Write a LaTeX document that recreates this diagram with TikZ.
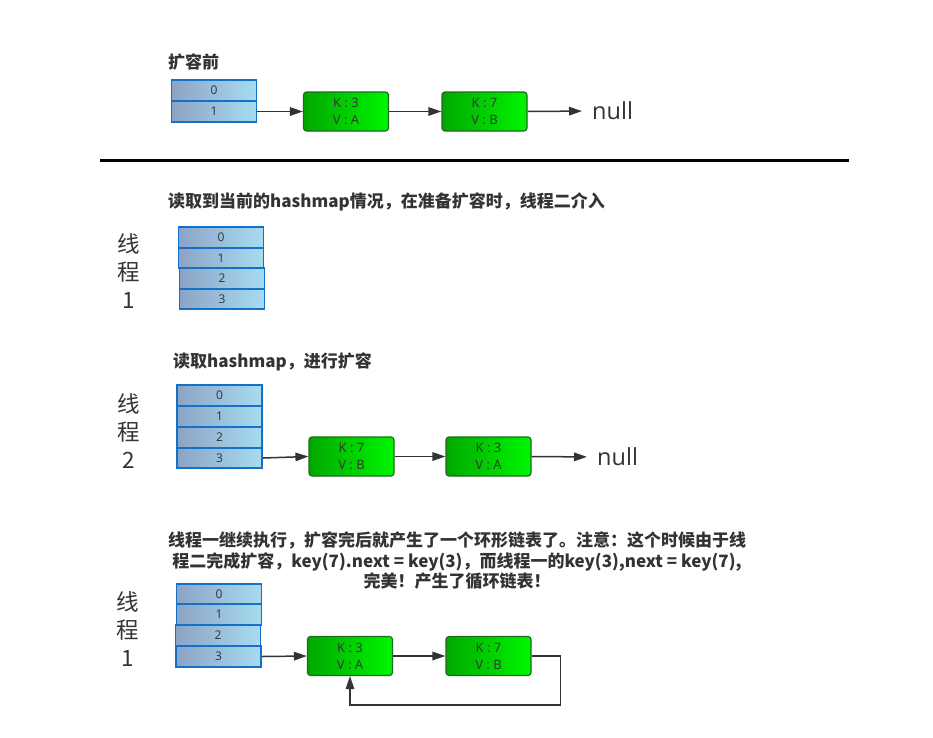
\documentclass[tikz,border=0pt]{standalone}
\usepackage{fontspec}
\usetikzlibrary{arrows.meta}
\newfontfamily\cjk{Noto Sans CJK SC}
\newfontfamily\lat{Open Sans}
\definecolor{cellL}{HTML}{8DA3C6}
\definecolor{cellR}{HTML}{A6DCF0}
\definecolor{cellB}{HTML}{1570C8}
\definecolor{grnL}{HTML}{00A800}
\definecolor{grnR}{HTML}{00F600}
\definecolor{grnB}{HTML}{1E6A1E}
\definecolor{ink}{HTML}{333333}
\tikzset{
  cell/.style={draw=cellB, line width=1.6pt, left color=cellL, right color=cellR,
    minimum width=85pt, minimum height=20.5pt, inner sep=0pt, text=ink,
    font=\lat\fontsize{12}{13}\selectfont},
  kv/.style={draw=grnB, line width=1.2pt, rounded corners=3pt, left color=grnL, right color=grnR,
    minimum width=85pt, minimum height=39pt, inner sep=0pt, text=ink, align=center,
    font=\lat\fontsize{13}{17}\selectfont},
  arr/.style={draw=ink, line width=1.5pt, -{Triangle[length=13pt,width=8.5pt]}},
  nulltxt/.style={font=\lat\fontsize{23.5}{26}\selectfont, text=ink, inner sep=0pt, anchor=west},
  head/.style={font=\cjk\bfseries\fontsize{17}{20.5}\selectfont, text=ink, inner sep=0pt},
  thr/.style={font=\cjk\fontsize{22.5}{28}\selectfont, text=ink, align=center, inner sep=0pt}
}
\begin{document}
\begin{tikzpicture}[x=1pt,y=-1pt]
\useasboundingbox (0,0) rectangle (933,737);
\fill[white] (0,0) rectangle (933,737);

% ---- section 1 ----
\node[head, anchor=west] (h1) at (168,62) {扩容前};
\node[cell, minimum height=21pt] (a0) at (214,90.5) {0};
\node[cell, minimum height=21pt] (a1) at (214,111.5) {1};
\node[kv] (p1) at (346,111.5) {K : 3\\V : A};
\node[kv] (p2) at (484.5,111.5) {K : 7\\V : B};
\node[nulltxt] (pn) at (592,111) {null};
\draw[arr] (a1.east) -- (p1.west);
\draw[arr] (p1.east) -- (p2.west);
\draw[arr, shorten >=10pt] (p2.east) -- (pn.west);

\draw[line width=3pt, black] (100,160) coordinate (s1) -- (849,160) coordinate (s2);

% ---- section 2 ----
\node[head, anchor=west] (h2) at (168,202) {读取到当前的hashmap情况，在准备扩容时，线程二介入};
\node[thr] (t2) at (129,271) {线\\程\\1};
\node[cell] (b0) at (221,237.5) {0};
\node[cell] (b1) at (221,258) {1};
\node[cell] (b2) at (222,278.5) {2};
\node[cell] (b3) at (222,299) {3};

% ---- section 3 ----
\node[head, anchor=west] (h3) at (173,362) {读取hashmap，进行扩容};
\node[thr] (t3) at (129,431) {线\\程\\2};
\node[cell] (c0) at (219.5,395.5) {0};
\node[cell] (c1) at (219.5,416.5) {1};
\node[cell] (c2) at (219.5,437.5) {2};
\node[cell] (c3) at (219.5,458) {3};
\node[kv] (q1) at (351.5,456.5) {K : 7\\V : B};
\node[kv] (q2) at (488.5,456.5) {K : 3\\V : A};
\node[nulltxt] (qn) at (597,457) {null};
\draw[arr] (c3.east) -- (q1.west);
\draw[arr] (q1.east) -- (q2.west);
\draw[arr, shorten >=10pt] (q2.east) -- (qn.west);

% ---- section 4 ----
\node[head, align=center] (h4) at (457,561) {线程一继续执行，扩容完后就产生了一个环形链表了。注意：这个时候由于线\\程二完成扩容，key(7).next = key(3)，而线程一的key(3),next = key(7),\\完美！产生了循环链表！};
\node[thr] (t4) at (128,629) {线\\程\\1};
\node[cell] (d0) at (219,594) {0};
\node[cell] (d1) at (219,614.5) {1};
\node[cell] (d2) at (218,635.5) {2};
\node[cell] (d3) at (218.5,656.5) {3};
\node[kv] (r1) at (350,656) {K : 3\\V : A};
\node[kv] (r2) at (488.5,656) {K : 7\\V : B};
\draw[arr] (d3.east) -- (r1.west);
\draw[arr] (r1.east) -- (r2.west);
\draw[arr] (r2.east) -- ++(29,0) -- ++(0,49) -| (r1.south);
\end{tikzpicture}
\end{document}
